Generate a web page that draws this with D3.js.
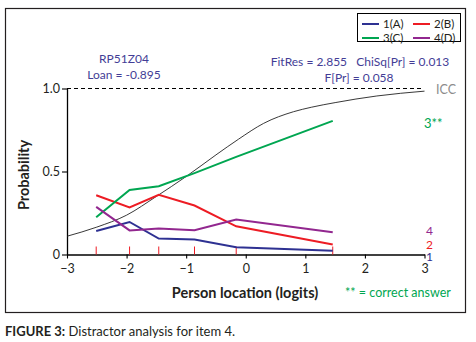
<!DOCTYPE html>
<html lang="en">
<head>
<meta charset="UTF-8">
<title>Distractor analysis for item 4</title>
<script src="https://d3js.org/d3.v7.min.js"></script>
<style>
  body { margin: 0; background: #fff; }
  text { font-family: Lato, "Open Sans", sans-serif; }
</style>
</head>
<body>
<div id="chart"></div>
<script>
// class intervals (person location, logits) and observed proportions per option
const groupLocs = [-2.51, -1.95, -1.46, -0.86, -0.16, 1.46];
const optA = [0.142, 0.196, 0.096, 0.090, 0.044, 0.022];
const optB = [0.357, 0.283, 0.359, 0.295, 0.170, 0.060];
const optC = [0.225, 0.389, 0.411, 0.490, 0.588, 0.805];
const optD = [0.287, 0.145, 0.157, 0.146, 0.211, 0.134];

// item characteristic curve
const iccLocs = [-3, -2.5, -2, -1.5, -1, -0.5, -0.12, 0.3, 0.8, 1.1, 1.5, 2.2, 3];
const iccProb = [0.11, 0.165, 0.237, 0.35, 0.47, 0.6, 0.695, 0.79, 0.86, 0.887, 0.915, 0.955, 0.984];

const xTicks = [-3, -2, -1, 0, 1, 2, 3];
const yTicks = [0, 0.5, 1.0];

const options = [
  {key: "1(A)", end: "1", vals: optA, color: "#2e3192"},
  {key: "2(B)", end: "2", vals: optB, color: "#ed1c24"},
  {key: "3(C)", end: "3**", vals: optC, color: "#00a651"},
  {key: "4(D)", end: "4", vals: optD, color: "#92278f"}
];

const W = 476, H = 342;
const svg = d3.select("#chart").append("svg")
  .attr("width", W).attr("height", H);

// frame
svg.append("rect")
  .attr("x", 5.5).attr("y", 8.5)
  .attr("width", 460).attr("height", 304)
  .attr("fill", "none").attr("stroke", "#231f20").attr("stroke-width", 1.2);

const x = d3.scaleLinear().domain([-3, 3]).range([67, 424.5]);
const y = d3.scaleLinear().domain([0, 1]).range([254.5, 88.5]);

// axes
const xAxis = svg.append("g")
  .attr("transform", `translate(0,${y(0)})`)
  .call(d3.axisBottom(x).tickValues(xTicks).tickSize(4).tickSizeOuter(0).tickFormat(d3.format("d")));
const yAxis = svg.append("g")
  .attr("transform", `translate(${x(-3)},0)`)
  .call(d3.axisLeft(y).tickValues(yTicks).tickSize(5).tickSizeOuter(0)
    .tickFormat(d => d === 0 ? "0" : d3.format(".1f")(d)));
[xAxis, yAxis].forEach(g => {
  g.select(".domain").attr("stroke", "#000").attr("stroke-width", 1.3);
  g.selectAll(".tick line").attr("stroke", "#000").attr("stroke-width", 1.1);
  g.selectAll(".tick text").attr("fill", "#231f20")
    .style("font-family", "Lato, sans-serif").style("font-size", "12.5px");
});
xAxis.selectAll(".tick text").attr("dy", "0.9em");
yAxis.selectAll(".tick text").attr("x", -7);

// dashed line at 1.0
svg.append("line")
  .attr("x1", x(-3)).attr("x2", x(2.95))
  .attr("y1", y(1)).attr("y2", y(1))
  .attr("stroke", "#000").attr("stroke-dasharray", "4,3").attr("stroke-width", 1);

// red class interval markers
svg.selectAll(".ci").data(groupLocs).join("line")
  .attr("class", "ci")
  .attr("x1", d => x(d)).attr("x2", d => x(d))
  .attr("y1", y(0)).attr("y2", y(0) - 8)
  .attr("stroke", "#ed1c24").attr("stroke-width", 1);

// ICC
const icc = iccLocs.map((d, i) => [d, iccProb[i]]);
svg.append("path")
  .datum(icc)
  .attr("fill", "none").attr("stroke", "#222").attr("stroke-width", 0.9)
  .attr("d", d3.line().x(d => x(d[0])).y(d => y(d[1])).curve(d3.curveMonotoneX));

// option lines
const line = d3.line().x(d => x(d[0])).y(d => y(d[1]));
svg.selectAll(".opt").data(options).join("path")
  .attr("class", "opt")
  .attr("fill", "none")
  .attr("stroke", d => d.color).attr("stroke-width", 2)
  .attr("d", d => line(groupLocs.map((g, i) => [g, d.vals[i]])));

// end labels
const endY = {"1": 257, "2": 244.5, "3**": 123, "4": 231};
svg.selectAll(".endlab").data(options).join("text")
  .attr("class", "endlab")
  .attr("x", d => d.end === "3**" ? 424 : 426)
  .attr("y", d => endY[d.end])
  .attr("dy", "0.35em")
  .attr("fill", d => d.color)
  .style("font-size", d => d.end === "3**" ? "13px" : "12px")
  .text(d => d.end);

svg.append("text")
  .attr("x", 436).attr("y", 90).attr("dy", "0.35em")
  .attr("fill", "#8c8c8c").style("font-size", "12.5px")
  .text("ICC");

// item info
const info = "#433d96";
svg.append("text").attr("x", 124).attr("y", 59).attr("dy", "0.35em")
  .attr("text-anchor", "middle").attr("fill", info).style("font-size", "12px")
  .text("RP51Z04");
svg.append("text").attr("x", 124).attr("y", 75).attr("dy", "0.35em")
  .attr("text-anchor", "middle").attr("fill", info).style("font-size", "12px")
  .text("Loan = -0.895");
svg.append("text").attr("x", 360).attr("y", 62).attr("dy", "0.35em")
  .attr("text-anchor", "middle").attr("fill", info).style("font-size", "12px")
  .attr("xml:space", "preserve")
  .text("FitRes = 2.855   ChiSq[Pr] = 0.013");
svg.append("text").attr("x", 359).attr("y", 78).attr("dy", "0.35em")
  .attr("text-anchor", "middle").attr("fill", info).style("font-size", "12px")
  .text("F[Pr] = 0.058");

// legend
const lg = svg.append("g");
lg.append("rect")
  .attr("x", 357.5).attr("y", 13.5).attr("width", 103).attr("height", 28)
  .attr("fill", "#fff").attr("stroke", "#000").attr("stroke-width", 1);
options.forEach((o, i) => {
  const lx = 362 + (i % 2) * 51;
  const ly = 24 + Math.floor(i / 2) * 14;
  lg.append("line")
    .attr("x1", lx).attr("x2", lx + 17)
    .attr("y1", ly).attr("y2", ly)
    .attr("stroke", o.color).attr("stroke-width", 2);
  lg.append("text")
    .attr("x", lx + 21).attr("y", ly).attr("dy", "0.35em")
    .attr("fill", "#231f20").style("font-size", "11.5px")
    .text(o.key);
});

// axis titles
svg.append("text")
  .attr("x", 245).attr("y", 293).attr("dy", "0.35em")
  .attr("text-anchor", "middle").attr("fill", "#231f20")
  .style("font-size", "14.5px").style("font-weight", "bold")
  .text("Person location (logits)");
svg.append("text")
  .attr("transform", "translate(24,175) rotate(-90)")
  .attr("dy", "0.35em")
  .attr("text-anchor", "middle").attr("fill", "#231f20")
  .style("font-size", "14.5px").style("font-weight", "bold")
  .text("Probability");
svg.append("text")
  .attr("x", 345).attr("y", 293).attr("dy", "0.35em")
  .attr("fill", "#00a651").style("font-size", "12.5px")
  .text("** = correct answer");

// caption
const cap = svg.append("text")
  .attr("x", 5).attr("y", 331).attr("dy", "0.35em")
  .attr("fill", "#231f20").style("font-size", "13px");
cap.append("tspan").style("font-weight", "bold").text("FIGURE 3:");
cap.append("tspan").text(" Distractor analysis for item 4.");
</script>
</body>
</html>
